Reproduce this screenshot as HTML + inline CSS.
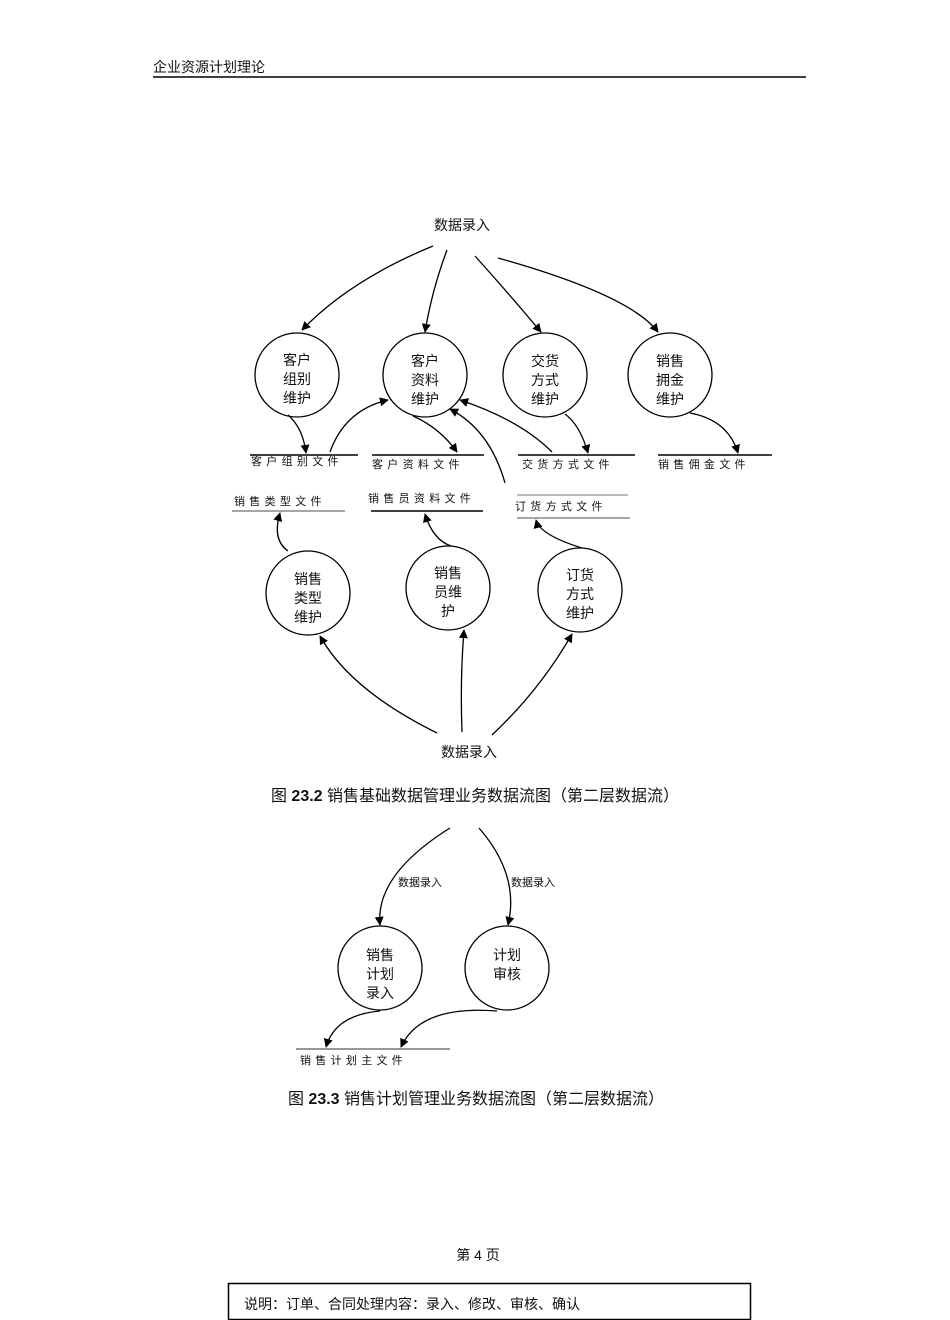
<!DOCTYPE html>
<html><head><meta charset="utf-8"><style>
html,body{margin:0;padding:0;background:#fff}
svg{display:block}
text{font-family:"Liberation Sans","Noto Sans CJK SC",sans-serif;fill:#111}
</style></head><body>
<svg width="950" height="1320" viewBox="0 0 950 1320">
<defs><marker id="a" viewBox="0 0 10 10" refX="9" refY="5" markerWidth="9" markerHeight="9" markerUnits="userSpaceOnUse" orient="auto"><path d="M0,0L10,5L0,10z" fill="#000"/></marker></defs>
<text x="153" y="72" font-size="14">企业资源计划理论</text>
<line x1="153" y1="77" x2="806" y2="77" stroke="#000" stroke-width="1.5"/>
<text x="462" y="230" font-size="14" text-anchor="middle">数据录入</text>
<g fill="none" stroke="#000" stroke-width="1.3">
<circle cx="297" cy="375" r="42"/><circle cx="425" cy="375" r="42"/><circle cx="545" cy="375" r="42"/><circle cx="670" cy="375" r="42"/>
<circle cx="308" cy="593" r="42"/><circle cx="448" cy="588" r="42"/><circle cx="580" cy="590" r="42"/>
<circle cx="380" cy="968" r="42"/><circle cx="507" cy="968" r="42"/>
<g marker-end="url(#a)">
<path d="M433,246 Q350,280 302,330"/>
<path d="M447,250 Q432,290 425,332"/>
<path d="M475,256 Q510,295 541,332"/>
<path d="M498,258 Q630,295 658,332"/>
<path d="M288,415 Q303,428 306,453"/>
<path d="M330,452 Q345,410 388,400"/>
<path d="M413,416 Q440,428 457,452"/>
<path d="M565,414 Q580,425 588,453"/>
<path d="M690,413 Q728,420 738,453"/>
<path d="M552,452 Q520,420 460,400"/>
<path d="M505,483 Q490,430 450,409"/>
<path d="M288,551 Q272,540 280,513"/>
<path d="M451,546 Q433,540 425,514"/>
<path d="M582,548 Q540,535 536,520"/>
<path d="M437,733 Q350,690 320,636"/>
<path d="M462,732 Q460,680 464,630"/>
<path d="M492,735 Q540,690 572,634"/>
<path d="M450,828 Q375,875 380,925"/>
<path d="M479,828 Q520,875 508,925"/>
<path d="M380,1011 Q335,1015 326,1047"/>
<path d="M497,1011 Q420,1005 401,1047"/>
</g>
</g>
<g font-size="14" text-anchor="middle">
<text x="297" y="365">客户</text><text x="297" y="384">组别</text><text x="297" y="403">维护</text>
<text x="425" y="366">客户</text><text x="425" y="385">资料</text><text x="425" y="404">维护</text>
<text x="545" y="366">交货</text><text x="545" y="385">方式</text><text x="545" y="404">维护</text>
<text x="670" y="366">销售</text><text x="670" y="385">拥金</text><text x="670" y="404">维护</text>
<text x="308" y="584">销售</text><text x="308" y="603">类型</text><text x="308" y="622">维护</text>
<text x="448" y="578">销售</text><text x="448" y="597">员维</text><text x="448" y="616">护</text>
<text x="580" y="580">订货</text><text x="580" y="599">方式</text><text x="580" y="618">维护</text>
<text x="380" y="960">销售</text><text x="380" y="979">计划</text><text x="380" y="998">录入</text>
<text x="507" y="960">计划</text><text x="507" y="979">审核</text>
</g>
<g stroke-width="1.5" stroke="#000">
<line x1="250" y1="455" x2="358" y2="455"/><line x1="372" y1="455" x2="484" y2="455"/>
<line x1="518" y1="455" x2="635" y2="455"/><line x1="658" y1="455" x2="772" y2="455"/>
<line x1="232" y1="511" x2="345" y2="511" stroke="#888"/><line x1="371" y1="511" x2="483" y2="511"/>
<line x1="517" y1="495" x2="628" y2="495" stroke="#777" stroke-width="1"/><line x1="517" y1="518" x2="630" y2="518" stroke="#888"/>
<line x1="296" y1="1049" x2="450" y2="1049" stroke="#777"/>
</g>
<g font-size="11" letter-spacing="4.3">
<text x="251" y="465">客户组别文件</text><text x="372" y="468">客户资料文件</text>
<text x="522" y="468">交货方式文件</text><text x="658" y="468">销售佣金文件</text>
<text x="234" y="505">销售类型文件</text><text x="368" y="502">销售员资料文件</text>
<text x="515" y="510">订货方式文件</text><text x="300" y="1064">销售计划主文件</text>
</g>
<g font-size="11"><text x="398" y="886">数据录入</text><text x="511" y="886">数据录入</text></g>
<text x="469" y="757" font-size="14" text-anchor="middle">数据录入</text>
<text x="475" y="801" font-size="16" text-anchor="middle">图 <tspan font-weight="bold">23.2</tspan> 销售基础数据管理业务数据流图（第二层数据流）</text>
<text x="476" y="1104" font-size="16" text-anchor="middle">图 <tspan font-weight="bold">23.3</tspan> 销售计划管理业务数据流图（第二层数据流）</text>
<text x="478" y="1260" font-size="14" text-anchor="middle">第 4 页</text>
<rect x="228.5" y="1283.5" width="522" height="36" fill="none" stroke="#000" stroke-width="1.5"/>
<text x="244" y="1309" font-size="14">说明：订单、合同处理内容：录入、修改、审核、确认</text>
</svg>
</body></html>
